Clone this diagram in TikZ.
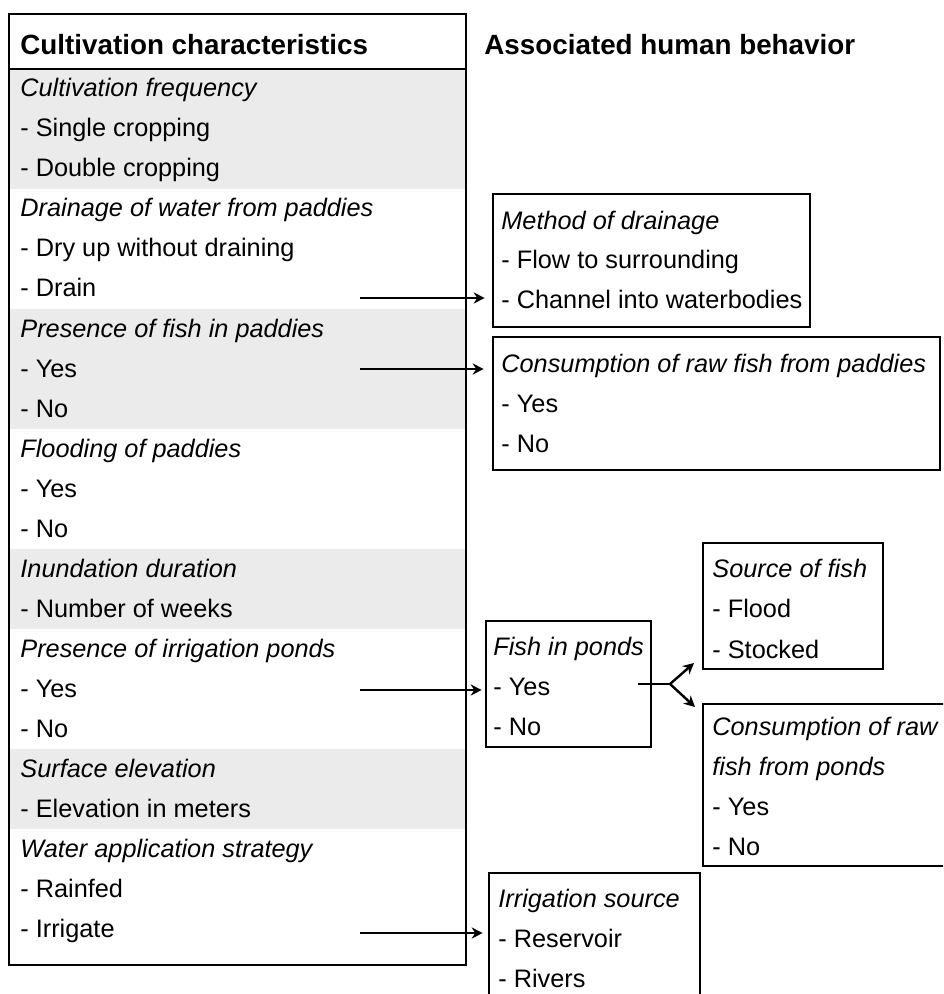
\documentclass[tikz,border=0pt]{standalone}
\usepackage{fontspec}
\setmainfont{Liberation Sans}
\usetikzlibrary{positioning,fit,arrows.meta}

\tikzset{
  box/.style={draw, line width=1.3pt, inner sep=0pt},
  item/.style={anchor=base west, inner sep=0pt, font=\fontsize{12.65}{20}\selectfont},
  head/.style={anchor=base west, inner sep=0pt, font=\fontsize{13.9}{20}\selectfont\bfseries},
  band/.style={fill=black!8},
  arr/.style={line width=1.2pt, -{Stealth[length=5.5pt,width=5.5pt]}}
}

\begin{document}
\begin{tikzpicture}[x=0.5pt,y=-0.5pt]
        \useasboundingbox (0,0) rectangle (943,994);
        \clip (0,0) rectangle (943,994);
        % Grey bands
        \foreach \a/\b in {69/189, 309/429, 549/629, 749/829}
            \fill[band] (10,\a) rectangle (465,\b);
        % Left table
        \node[box, fit={(9,14) (466,965)}] (main) {};
        \draw[line width=1.3pt] (main.west |- 0,69) -- (main.east |- 0,69);
        \node[head] (lhead) at (20,55) {Cultivation characteristics};
        \node[head] (rhead) at (484,55) {Associated human behavior};
        \foreach \txt [count=\k from 0] in {{\itshape Cultivation frequency}, - Single cropping, - Double cropping,
            {\itshape Drainage of water from paddies}, - Dry up without draining, - Drain,
            {\itshape Presence of fish in paddies}, - Yes, - No,
            {\itshape Flooding of paddies}, - Yes, - No,
            {\itshape Inundation duration}, - Number of weeks,
            {\itshape Presence of irrigation ponds}, - Yes, - No,
            {\itshape Surface elevation}, - Elevation in meters,
            {\itshape Water application strategy}, - Rainfed, - Irrigate}
            \node[item] (c\k) at (20,{97+40*\k}) {\txt};

        % Method of drainage
        \node[box, fit={(493,194) (810,327)}] (drainbox) {};
        \node[item] (d1) at (501,230) {\itshape Method of drainage};
        \node[item] (d2) at (501,269) {- Flow to surrounding};
        \node[item] (d3) at (501,308) {- Channel into waterbodies};
        % Raw fish from paddies
        \node[box, fit={(493,337) (940,470)}] (rawpaddy) {};
        \node[item] (p1) at (501,372) {\itshape Consumption of raw fish from paddies};
        \node[item] (p2) at (501,412) {- Yes};
        \node[item] (p3) at (501,452) {- No};
        % Fish in ponds
        \node[box, fit={(486,621) (651,747)}] (pondfish) {};
        \node[item] (f1) at (493,655) {\itshape Fish in ponds};
        \node[item] (f2) at (493,695) {- Yes};
        \node[item] (f3) at (493,735) {- No};
        % Source of fish
        \node[box, fit={(703,543) (883,669)}] (fishsrc) {};
        \node[item] (s1) at (712,577) {\itshape Source of fish};
        \node[item] (s2) at (712,617) {- Flood};
        \node[item] (s3) at (712,658) {- Stocked};
        % Raw fish from ponds
        \node[box, fit={(703,704) (960,866)}] (rawpond) {};
        \node[item] (r1) at (712,735) {\itshape Consumption of raw};
        \node[item] (r2) at (712,775) {\itshape fish from ponds};
        \node[item] (r3) at (712,815) {- Yes};
        \node[item] (r4) at (712,855) {- No};
        % Irrigation source
        \node[box, fit={(489,873) (700,1010)}] (irrsrc) {};
        \node[item] (i1) at (498,907) {\itshape Irrigation source};
        \node[item] (i2) at (498,947) {- Reservoir};
        \node[item] (i3) at (498,987) {- Rivers};

        % Arrows
        \coordinate (a1) at (360,298);
        \coordinate (a2) at (360,369);
        \coordinate (a3) at (360,690);
        \coordinate (a4) at (360,933);
        \draw[arr, shorten >=3.5pt] (a1) -- (a1 -| drainbox.west);
        \draw[arr, shorten >=4pt] (a2) -- (a2 -| rawpaddy.west);
        \draw[arr, shorten >=1.5pt] (a3) -- (a3 -| pondfish.west);
        \draw[arr, shorten >=2.5pt] (a4) -- (a4 -| irrsrc.west);
        % Fork
        \coordinate (yes) at (638,684);
        \coordinate (fork) at (670,684);
        \coordinate (up) at (694,663);
        \coordinate (down) at (695,707);
        \draw[line width=1.2pt] (yes) -- (fork);
        \draw[arr] (fork) -- (up);
        \draw[arr] (fork) -- (down);
    \end{tikzpicture}
\end{document}
